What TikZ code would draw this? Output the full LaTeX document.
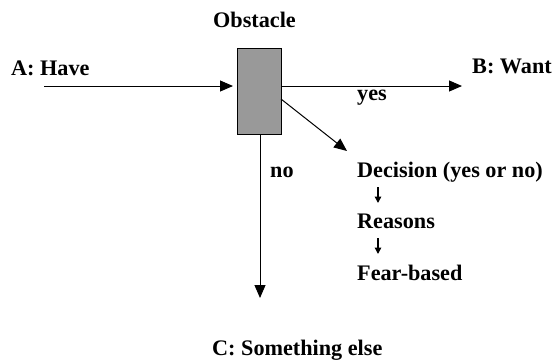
\documentclass[tikz,border=0pt]{standalone}
\usepackage{fontspec}
\setmainfont{Liberation Serif}
\usetikzlibrary{arrows.meta}
\begin{document}
\begin{tikzpicture}[x=1pt,y=-1pt,
  lbl/.style={font=\fontsize{22.2}{26}\selectfont\bfseries, inner sep=0pt, anchor=base west},
  conn/.style={line width=1pt, -{Triangle[length=13pt,width=11pt]}},
  small/.style={line width=1.4pt, -{Triangle[length=6.5pt,width=6.5pt]}}]
\useasboundingbox (0,0) rectangle (555,360);
\node[draw, line width=0.8pt, fill=black!40, minimum width=44pt, minimum height=86pt, inner sep=0pt] (box) at (259,91) {};
\node[lbl] (obst) at (213,27) {Obstacle};
\node[lbl] (A) at (11,75) {A: Have};
\node[lbl] (B) at (472,73) {B: Want};
\node[lbl] (yes) at (357,100) {yes};
\node[lbl] (no) at (270,177) {no};
\node[lbl] (dec) at (357,177) {Decision (yes or no)};
\node[lbl] (rea) at (357,228) {Reasons};
\node[lbl] (fear) at (357,280) {Fear-based};
\node[lbl] (C) at (212,355) {C: Something else};
\coordinate (a0) at (44,86);
\coordinate (a1) at (233,86);
\coordinate (b0) at (281,86);
\coordinate (b1) at (462,86);
\coordinate (d0) at (281,99);
\coordinate (d1) at (347,151);
\coordinate (c1) at (260,298);
\coordinate (s1a) at (378,187);
\coordinate (s1b) at (378,203);
\coordinate (s2a) at (378,238);
\coordinate (s2b) at (378,254);
\draw[conn] (a0) -- (a1);
\draw[conn] (b0) -- (b1);
\draw[conn] (d0) -- (d1);
\draw[conn] (box.south -| c1) -- (c1);
\draw[small] (s1a) -- (s1b);
\draw[small] (s2a) -- (s2b);
\end{tikzpicture}
\end{document}
